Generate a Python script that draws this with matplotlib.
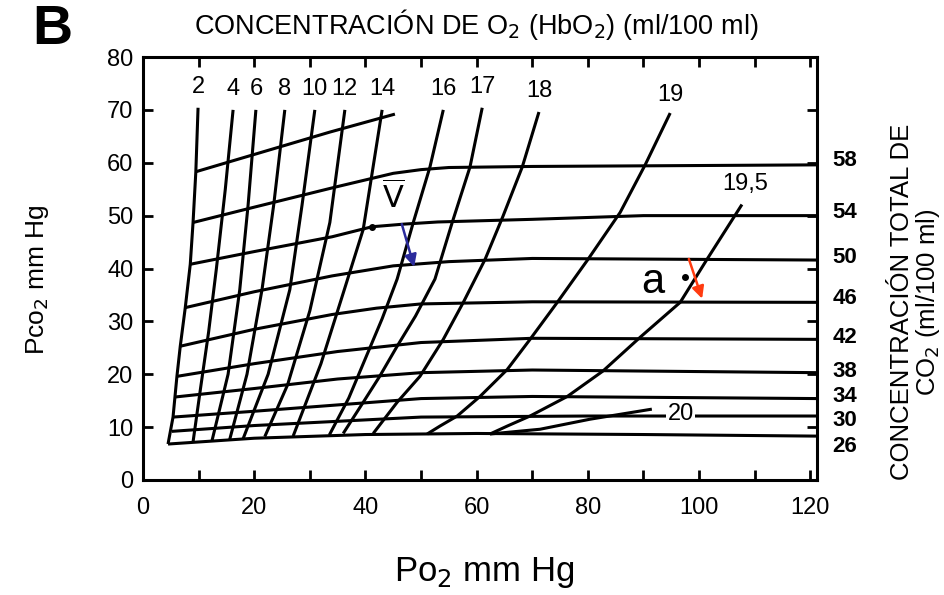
import matplotlib.pyplot as plt

o2_2 = [(9.9, 70.4), (9.5, 58.3), (9.0, 48.7), (8.5, 40.8), (7.6, 32.6),
        (6.7, 25.3), (6.1, 19.6), (5.4, 11.9), (4.5, 6.8)]
o2_4 = [(16.2, 70.0), (14.8, 55.0), (13.2, 40.0), (11.8, 28.0), (10.3, 17.0), (9.0, 7.2)]
o2_6 = [(20.3, 70.0), (18.9, 52.0), (17.4, 36.0), (15.3, 20.0), (12.4, 7.4)]
o2_8 = [(25.5, 70.0), (23.5, 52.0), (21.4, 36.0), (18.7, 20.0), (15.6, 7.7)]
o2_10 = [(30.9, 70.0), (28.6, 52.0), (26.4, 36.0), (22.5, 20.0), (18.0, 7.8)]
o2_12 = [(36.3, 70.0), (33.6, 48.7), (30.0, 32.0), (26.0, 18.0), (21.9, 8.2)]
o2_14 = [(43.0, 70.0), (39.6, 47.4), (36.2, 36.0), (32.0, 22.0), (27.0, 8.3)]
o2_16 = [(54.0, 70.0), (51.6, 59.2), (48.6, 48.7), (45.7, 38.0), (43.0, 30.5),
         (40.0, 23.0), (37.0, 15.5), (33.5, 8.5)]
o2_17 = [(61.0, 70.4), (58.8, 59.2), (55.6, 48.7), (52.5, 38.0), (49.0, 31.0),
         (45.7, 25.3), (42.5, 19.5), (39.6, 14.7), (36.0, 8.8)]
o2_18 = [(71.2, 69.6), (68.2, 59.2), (64.7, 49.8), (61.5, 41.7), (57.6, 33.6),
         (54.0, 26.6), (49.8, 19.6), (45.7, 14.7), (41.4, 8.8)]
o2_19 = [(94.8, 69.4), (90.3, 59.6), (85.8, 50.6), (80.0, 41.7), (74.5, 33.6),
         (69.6, 26.6), (65.5, 20.9), (60.6, 15.8), (56.5, 12.1), (53.4, 10.2), (51.1, 8.7)]
o2_19_5 = [(107.7, 52.1), (101.4, 41.7), (96.6, 33.6), (89.4, 27.0), (82.7, 20.6),
           (76.3, 15.8), (69.6, 12.1), (65.5, 10.2), (62.4, 8.7)]
o2_20 = [(62.4, 8.7), (71.4, 9.6), (80.4, 11.5), (91.5, 13.4)]

o2_lines = [o2_2, o2_4, o2_6, o2_8, o2_10, o2_12, o2_14, o2_16, o2_17, o2_18,
            o2_19, o2_19_5, o2_20]
o2_labels = ["2", "4", "6", "8", "10", "12", "14", "16", "17", "18", "19", "19,5", "20"]

# total CO2 content lines (ml/100 ml)
co2_top = [(9.5, 58.3), (33.6, 65.8), (45.3, 69.2)]
co2_58 = [(9.0, 48.7), (20, 51.6), (35, 55.5), (45, 58.0), (50, 58.7), (55, 59.1),
          (70, 59.3), (121.2, 59.6)]
co2_54 = [(8.5, 40.8), (20, 43.2), (34, 46.0), (41.2, 47.9), (47, 48.4), (53, 48.8),
          (70, 49.3), (90, 50.0), (121.2, 50.0)]
co2_50 = [(7.6, 32.6), (20, 35.6), (34, 38.6), (45, 40.5), (55, 41.3), (70, 41.9), (121.2, 41.6)]
co2_46 = [(6.7, 25.3), (20, 28.5), (34, 31.3), (42, 32.5), (50, 33.3), (70, 33.7), (121.2, 33.6)]
co2_42 = [(6.1, 19.6), (20, 22.0), (35, 24.3), (50, 26.0), (70, 26.8), (121.2, 26.6)]
co2_38 = [(5.8, 15.7), (20, 17.3), (35, 19.1), (50, 20.3), (70, 20.8), (121.2, 20.3)]
co2_34 = [(5.4, 11.9), (20, 13.0), (35, 14.2), (50, 15.4), (70, 15.8), (121.2, 15.4)]
co2_30 = [(5.2, 9.2), (20, 10.3), (35, 11.1), (50, 11.9), (80, 12.1), (121.2, 12.1)]
co2_26 = [(4.5, 6.8), (20, 7.9), (40, 8.6), (60, 8.8), (90, 8.6), (121.2, 8.3)]

co2_lines = [co2_top, co2_58, co2_54, co2_50, co2_46, co2_42, co2_38, co2_34, co2_30, co2_26]
co2_labels = ["58", "54", "50", "46", "42", "38", "34", "30", "26"]

# blood points: mixed venous and arterial, with the arrows drawn over them
point_v = (41.2, 47.9)
point_a = (97.5, 38.3)
arrow_v = [(46.4, 48.9), (48.9, 39.8)]
arrow_a = [(98.0, 42.3), (100.7, 33.8)]

x_ticks = [0, 20, 40, 60, 80, 100, 120]
y_ticks = [0, 10, 20, 30, 40, 50, 60, 70, 80]


def main():
  plt.rcParams['font.family'] = ['Liberation Sans', 'DejaVu Sans']
  fig = plt.figure(figsize=(9.45, 5.95), dpi=100)
  ax = fig.add_axes([143 / 945, 1 - 480 / 595, 674 / 945, 423 / 595])
  ax.set_xlim(0, 121.2)
  ax.set_ylim(0, 80)

  for pts in co2_lines + o2_lines:
    ax.plot([p[0] for p in pts], [p[1] for p in pts], color='black', lw=2.2,
            solid_capstyle='butt', solid_joinstyle='round')

  # labels of the O2 isopleths
  for pts, lab in zip(o2_lines[:10], o2_labels[:10]):
    ax.text(pts[0][0], pts[0][1] + 3.9, lab, ha='center', va='center', fontsize=17)
  ax.text(o2_19[0][0], o2_19[0][1] + 3.5, o2_labels[10], ha='center', va='center', fontsize=17)
  ax.text(o2_19_5[0][0] + 0.6, o2_19_5[0][1] + 3.8, o2_labels[11], ha='center', va='center',
          fontsize=17)
  ax.text(o2_20[-1][0] + 5.2, o2_20[-1][1] - 1.0, o2_labels[12], ha='center', va='center',
          fontsize=17, bbox=dict(facecolor='white', edgecolor='none', pad=1.0))

  # labels of the CO2 content lines, right of the frame
  label_y = [60.4, 50.6, 42.1, 34.3, 27.0, 20.6, 15.8, 11.3, 6.4]
  for y, lab in zip(label_y, co2_labels):
    ax.text(124.0, y, lab, ha='left', va='center', fontsize=16, fontweight='bold',
            clip_on=False)

  # venous and arterial points
  ax.plot(*point_v, 'o', color='black', ms=4)
  ax.plot(*point_a, 'o', color='black', ms=4)
  ax.text(point_v[0] + 3.8, point_v[1] + 5.4, r"$\overline{\mathrm{V}}$", ha='center',
          va='center', fontsize=22)
  ax.text(point_a[0] - 5.8, point_a[1] - 0.9, "a", ha='center', va='center', fontsize=30)
  ax.annotate("", xy=arrow_v[1], xytext=arrow_v[0],
              arrowprops=dict(arrowstyle='-|>', color='#2b2b9c', lw=1.8, mutation_scale=18))
  ax.annotate("", xy=arrow_a[1], xytext=arrow_a[0],
              arrowprops=dict(arrowstyle='-|>', color='#ff3b10', lw=1.8, mutation_scale=18))

  ax.set_xticks(range(0, 121, 10), minor=True)
  ax.set_yticks(range(0, 81, 10), minor=True)
  ax.set_xticks(x_ticks)
  ax.set_yticks(y_ticks)
  ax.tick_params(which='both', direction='in', top=True, right=True, length=7, width=2)
  ax.tick_params(axis='x', labelsize=17, pad=12)
  ax.tick_params(axis='y', labelsize=17, pad=7)
  for s in ax.spines.values():
    s.set_linewidth(2.2)

  fig.text(52 / 945, 1 - 30 / 595, "B", fontsize=40, fontweight='bold', ha='center', va='center')
  fig.text(476 / 945, 1 - 25 / 595, "CONCENTRACIÓN DE O$_2$ (HbO$_2$) (ml/100 ml)",
           fontsize=19.5, ha='center', va='center')
  fig.text(38 / 945, 1 - 280 / 595, "Pco$_2$ mm Hg", fontsize=19, rotation=90,
           ha='center', va='center')
  fig.text(484 / 945, 1 - 572 / 595, "Po$_2$ mm Hg", fontsize=25, ha='center', va='center')
  fig.text(916 / 945, 1 - 302 / 595, "CONCENTRACIÓN TOTAL DE\nCO$_2$ (ml/100 ml)",
           fontsize=18.5, rotation=90, ha='center', va='center', linespacing=1.0)

  fig.savefig("out.png", dpi=100)


if __name__ == '__main__':
  main()
